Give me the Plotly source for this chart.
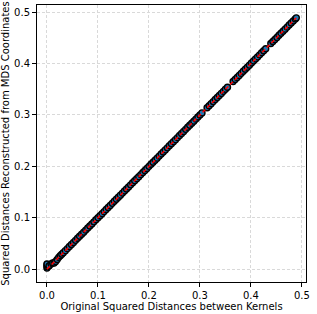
import plotly.graph_objects as go

orig_sq = [0.000, 0.000, 0.000, 0.000, 0.004, 0.008, 0.011, 0.014, 0.017, 0.020, 0.023, 0.026, 0.029, 0.032,
           0.036, 0.040, 0.044, 0.048, 0.052, 0.056, 0.060, 0.064, 0.068, 0.072, 0.076, 0.080, 0.084, 0.088,
           0.092, 0.096, 0.100, 0.104, 0.108, 0.112, 0.116, 0.120, 0.124, 0.128, 0.132, 0.136, 0.140, 0.144,
           0.148, 0.152, 0.156, 0.160, 0.164, 0.168, 0.172, 0.176, 0.180, 0.184, 0.188, 0.192, 0.196, 0.200,
           0.204, 0.208, 0.212, 0.216, 0.220, 0.224, 0.228, 0.232, 0.236, 0.240, 0.244, 0.248, 0.252, 0.256,
           0.260, 0.264, 0.268, 0.272, 0.276, 0.280, 0.284, 0.288, 0.292, 0.296, 0.300, 0.304, 0.314, 0.318,
           0.322, 0.326, 0.330, 0.334, 0.338, 0.342, 0.346, 0.350, 0.354, 0.365, 0.369, 0.373, 0.377, 0.381,
           0.385, 0.389, 0.393, 0.397, 0.401, 0.405, 0.409, 0.413, 0.417, 0.421, 0.425, 0.429, 0.439, 0.443,
           0.447, 0.451, 0.455, 0.459, 0.463, 0.467, 0.471, 0.475, 0.479, 0.483, 0.487, 0.489]

mds_sq = [0.002, 0.005, 0.008, 0.010, 0.006, 0.010, 0.012, 0.012, 0.015, 0.019, 0.023, 0.026, 0.029, 0.032,
          0.036, 0.040, 0.044, 0.048, 0.052, 0.056, 0.060, 0.064, 0.068, 0.072, 0.076, 0.080, 0.084, 0.088,
          0.092, 0.096, 0.100, 0.104, 0.108, 0.112, 0.116, 0.120, 0.124, 0.128, 0.132, 0.136, 0.140, 0.144,
          0.148, 0.152, 0.156, 0.160, 0.164, 0.168, 0.172, 0.176, 0.180, 0.184, 0.188, 0.192, 0.196, 0.200,
          0.204, 0.208, 0.212, 0.216, 0.220, 0.224, 0.228, 0.232, 0.236, 0.240, 0.244, 0.248, 0.252, 0.256,
          0.260, 0.264, 0.268, 0.272, 0.276, 0.280, 0.284, 0.288, 0.292, 0.296, 0.300, 0.304, 0.314, 0.318,
          0.322, 0.326, 0.330, 0.334, 0.338, 0.342, 0.346, 0.350, 0.354, 0.365, 0.369, 0.373, 0.377, 0.381,
          0.385, 0.389, 0.393, 0.397, 0.401, 0.405, 0.409, 0.413, 0.417, 0.421, 0.425, 0.429, 0.439, 0.443,
          0.447, 0.451, 0.455, 0.459, 0.463, 0.467, 0.471, 0.475, 0.479, 0.483, 0.487, 0.489]

ref_line = [0.0, 0.489]
tick_vals = [0.0, 0.1, 0.2, 0.3, 0.4, 0.5]
tick_text = ["0.0", "0.1", "0.2", "0.3", "0.4", "0.5"]

fig = go.Figure()
fig.add_trace(go.Scatter(
    x=orig_sq, y=mds_sq, mode="markers",
    marker=dict(size=6, color="#1f77b4", line=dict(color="black", width=1.4)),
    showlegend=False, hoverinfo="skip"))
fig.add_trace(go.Scatter(
    x=ref_line, y=ref_line, mode="lines",
    line=dict(color="red", width=1.5, dash="4px,2.5px"),
    showlegend=False, hoverinfo="skip"))

axis_common = dict(
    showline=True, linecolor="black", linewidth=1, mirror=True,
    ticks="outside", ticklen=4, tickcolor="black", tickwidth=1,
    showgrid=True, gridcolor="#d9d9d9", griddash="3px,2px", gridwidth=0.8,
    zeroline=False, tickvals=tick_vals, ticktext=tick_text,
    tickfont=dict(size=10, color="black"), automargin=False,
)
fig.update_xaxes(range=[-0.0196, 0.508],
                 title=dict(text="Original Squared Distances between Kernels", font=dict(size=10, color="black"), standoff=2),
                 **axis_common)
fig.update_yaxes(range=[-0.025, 0.514],
                 title=dict(text="Squared Distances Reconstructed from MDS Coordinates", font=dict(size=10, color="black"), standoff=2),
                 **axis_common)
fig.update_layout(
    width=317, height=314,
    margin=dict(l=37, r=11, t=5, b=32),
    paper_bgcolor="white", plot_bgcolor="white",
    font=dict(family="DejaVu Sans", size=10, color="black"),
)
fig.write_html("out.html", config={"displayModeBar": False},
               post_script="document.body.style.margin='0';document.body.style.overflow='hidden';")
